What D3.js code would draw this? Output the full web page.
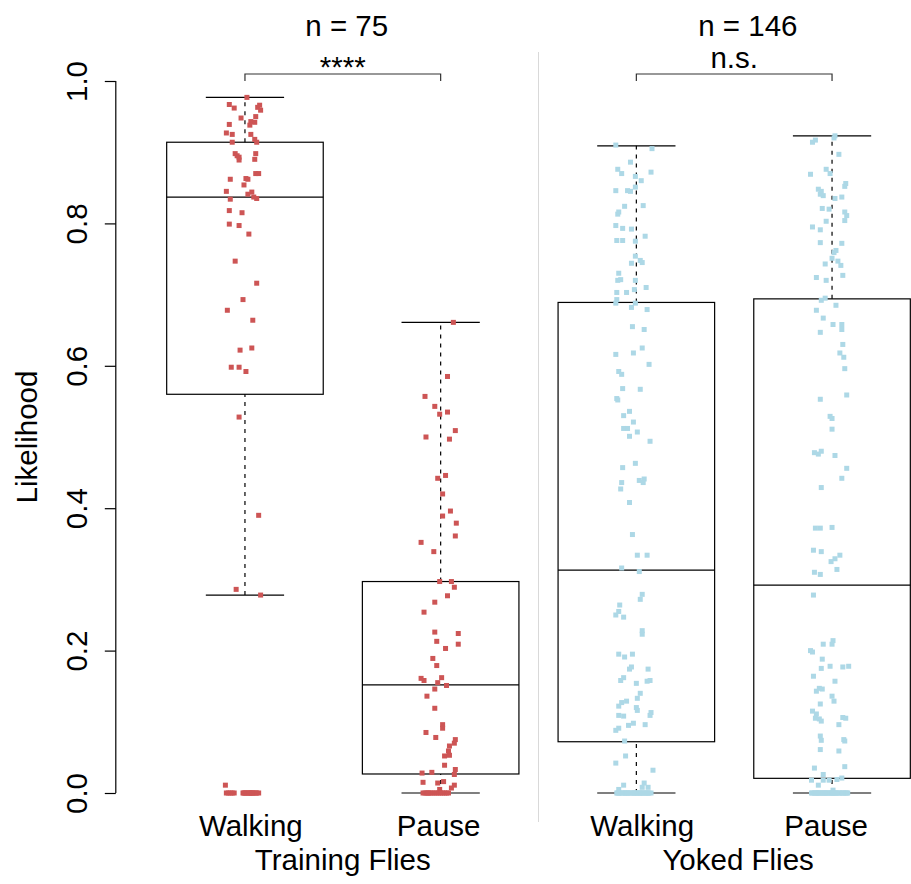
<!DOCTYPE html>
<html>
<head>
<meta charset="utf-8">
<script src="https://cdnjs.cloudflare.com/ajax/libs/d3/7.8.5/d3.min.js"></script>
<style>
  html, body { margin: 0; padding: 0; background: #ffffff; }
  svg { display: block; }
  text { font-family: "Liberation Sans", Arial, Helvetica, sans-serif; fill: #000; }
</style>
</head>
<body>
<svg id="chart" width="911" height="884"></svg>
<script>
// ---------------- DATA ----------------
const categories = ["Walking", "Pause", "Walking", "Pause"];
const groupLabels = ["Training Flies", "Yoked Flies"];
const groupCounts = ["n = 75", "n = 146"];
const significance = ["****", "n.s."];
const yTicks = [0, 0.2, 0.4, 0.6, 0.8, 1.0];
const yTickLabels = ["0.0", "0.2", "0.4", "0.6", "0.8", "1.0"];
const yLabel = "Likelihood";

// box statistics: [lower whisker, Q1, median, Q3, upper whisker]
const boxTrainWalk = [0.278, 0.560, 0.837, 0.914, 0.977];
const boxTrainPause = [0.000, 0.0267, 0.152, 0.297, 0.661];
const boxYokedWalk = [0.000, 0.072, 0.313, 0.689, 0.909];
const boxYokedPause = [0.000, 0.0206, 0.292, 0.694, 0.923];

// jittered points: values and horizontal jitter (units of 0.005 category width)
const trainWalkVals = [0.977,0.967,0.962,0.966,0.963,0.959,0.950,0.948,0.943,0.942,0.939,0.938,
  0.927,0.925,0.925,0.918,0.914,0.914,0.898,0.898,0.895,0.893,0.889,0.890,
  0.870,0.870,0.862,0.863,0.862,0.854,0.845,0.844,0.841,0.837,0.835,0.834,
  0.818,0.815,0.799,0.797,0.785,0.747,0.716,0.693,0.678,0.664,0.622,0.625,0.598,0.598,0.592,
  0.528,0.390,0.286,0.278,0.011,
  0,0,0,0,0,0,0,0,0,0,0,0,0,0,0,0,0,0,0];
const trainWalkJit = [2,-16,-11,15,13,16,11,-4,6,10,-16,5,
  -19,-13,6,10,12,-13,11,-10,-8,-6,-6,10,
  11,14,-15,1,3,-1,-19,7,3,9,12,-15,
  -16,-3,-16,-6,4,-10,12,-2,-18,8,-5,7,-14,-6,1,
  -6,14,-9,16,-20,
  -19,-17,-15,-13,-11,-2,0,1,3,5,6,8,9,11,12,14,-1,4,7];

const trainPauseVals = [0.661,0.585,0.557,0.543,0.535,0.532,0.509,0.500,0.497,0.446,0.442,0.420,
  0.396,0.389,0.379,0.361,0.352,0.339,
  0.297,0.297,0.289,0.277,0.268,0.254,0.226,0.224,0.213,0.209,0.203,0.189,0.179,0.161,0.158,
  0.162,0.155,0.151,0.146,0.136,0.119,0.096,0.091,0.085,0.078,0.075,0.070,0.066,0.059,0.052,
  0.053,0.039,0.033,0.028,0.029,0.026,0.015,0.014,0.016,0.011,0.007,0.005,
  0,0,0,0,0,0,0,0,0,0,0,0,0,0,0];
const trainPauseJit = [13,7,-16,-6,7,-1,15,-15,9,5,-3,2,
  10,2,16,15,-20,-7,
  -1,11,14,7,-6,-17,-6,18,-4,18,5,-8,-4,-20,-17,
  1,-3,6,-6,-14,-6,2,2,-15,-5,15,14,9,8,4,
  9,4,15,-19,-9,14,-18,-3,3,14,11,-1,
  -18,-16,-14,-12,-10,-8,-6,-4,-2,0,2,4,6,8,-13];

const yokedWalkVals = [0.910,0.905,0.886,0.876,0.870,0.872,0.866,0.860,0.851,0.846,0.846,0.845,
  0.825,0.824,0.816,0.813,0.797,0.793,0.792,0.782,0.776,0.776,0.775,0.754,0.748,0.745,0.744,
  0.730,0.721,0.720,0.720,0.710,0.707,0.703,0.703,0.693,0.688,0.688,0.682,0.679,0.655,0.651,
  0.625,0.616,0.618,
  0.602,0.592,0.588,0.568,0.567,0.554,0.552,0.536,0.530,0.521,0.512,0.512,0.507,0.501,0.494,
  0.463,0.457,0.439,0.441,0.436,0.436,0.427,0.408,0.363,0.334,0.334,0.316,0.311,
  0.279,0.272,0.264,0.255,0.250,0.247,0.228,0.223,0.195,0.191,0.195,0.177,0.174,0.174,0.162,
  0.158,0.154,0.157,0.158,0.140,0.133,0.127,0.129,0.122,0.120,0.116,0.113,0.109,0.109,0.108,
  0.098,0.095,0.096,0.091,0.088,0.073,0.052,0.042,0.032,0.011,0.014,0.005,0.008,0.008,
  0,0,0,0,0,0,0,0,0,0,0,0,0,0,0,0,0,0,0,0,0,0,0,0,0,0,0,0,0];
const yokedWalkJit = [-21,16,-6,-19,-15,15,-1,5,-1,-21,-9,-6,
  7,-12,-18,-19,-21,-14,-5,9,-20,-14,-1,-1,4,6,-5,
  -18,-16,-19,-1,10,-2,-20,-10,-20,-21,-1,-5,11,-4,8,
  6,-21,-3,
  13,-18,-15,-14,4,-20,-19,-7,-13,-3,-13,-9,1,-7,14,
  -1,-14,3,8,7,-15,-16,-7,-4,1,11,-15,3,
  6,4,-17,-18,-21,-13,6,6,-18,-12,-4,-5,-7,12,-13,
  -16,0,11,14,4,1,-15,-10,-18,0,1,15,14,-18,-13,
  -3,-8,9,-18,-21,-12,-11,-21,17,-13,8,-18,6,12,
  -20,-18,-17,-15,-14,-12,-11,-9,-8,-6,-5,-3,-2,0,1,3,4,6,7,9,10,12,13,15,-19,-10,-1,5,11];

const yokedPauseVals = [0.923,0.920,0.917,0.914,0.897,0.876,0.870,0.869,0.856,0.852,0.848,0.845,
  0.841,0.839,0.837,0.835,0.821,0.820,0.816,0.811,0.804,0.803,0.795,0.791,0.773,0.772,0.762,
  0.759,0.751,0.747,0.741,0.743,0.727,0.724,0.720,0.692,0.695,0.685,0.678,0.667,0.658,0.658,
  0.651,0.647,0.630,
  0.618,0.612,0.596,0.559,0.553,0.529,0.526,0.511,0.478,0.476,0.480,0.474,0.456,0.442,0.429,
  0.372,0.372,0.373,0.341,0.339,0.334,0.329,0.325,0.314,
  0.310,0.307,0.278,0.214,0.209,0.209,0.200,0.198,0.188,0.175,0.178,0.177,0.178,0.164,0.157,
  0.147,0.146,0.143,0.136,0.129,0.125,0.115,0.111,0.105,0.104,0.101,0.106,0.105,0.096,0.080,
  0.074,0.075,0.073,0.061,0.059,0.037,0.035,0.026,0.018,0.018,0.018,0.019,0.021,0.011,0.004,
  0,0,0,0,0,0,0,0,0,0,0,0,0,0,0,0,0,0,0,0,0,0,0,0,0,0,0,0,0,0,0,0];
const yokedPauseJit = [3,2,-17,-20,7,-6,-2,-22,14,13,-14,-11,
  -12,-9,10,3,-10,-3,13,15,13,-6,-20,-12,-12,10,4,
  2,0,6,9,-7,11,-16,-6,-11,-7,4,-16,-9,1,10,
  10,-12,11,
  8,12,13,15,-12,-2,0,0,-18,-14,-11,3,15,10,-11,
  -17,-12,0,-19,-11,8,3,-1,5,
  -18,-12,-19,1,-9,0,-22,-20,-10,-11,-2,11,17,-19,3,
  -13,-10,-16,0,2,-12,-20,-16,-17,-13,-11,11,14,7,-12,
  -11,12,13,-12,7,13,-18,-9,-21,-9,-3,5,10,-14,1,
  -21,-20,-18,-17,-16,-14,-13,-12,-10,-9,-8,-6,-5,-4,-2,-1,0,1,3,4,5,7,8,10,11,12,14,15,16,-15,-7,2];

const JIT_UNIT = 0.005;
const pointColors = ["#CD5555", "#ADD8E6"];

// ---------------- CHART ----------------
const svg = d3.select("#chart");
const x = d3.scaleLinear().domain([0.34, 4.66]).range([115.8, 961.2]);
const y = d3.scaleLinear().domain([0, 1]).range([793, 81]);

const boxes = [boxTrainWalk, boxTrainPause, boxYokedWalk, boxYokedPause];
const series = [
  {vals: trainWalkVals, jit: trainWalkJit, color: pointColors[0]},
  {vals: trainPauseVals, jit: trainPauseJit, color: pointColors[0]},
  {vals: yokedWalkVals, jit: yokedWalkJit, color: pointColors[1]},
  {vals: yokedPauseVals, jit: yokedPauseJit, color: pointColors[1]}
];
const boxHalf = 0.4, capHalf = 0.2;
const FS = 29.5;

// separator between groups
svg.append("line")
  .attr("x1", x(2.5)).attr("x2", x(2.5))
  .attr("y1", 52).attr("y2", 822)
  .attr("stroke", "#d9d9d9").attr("stroke-width", 1);

// boxes
boxes.forEach((b, i) => {
  const pos = i + 1;
  const g = svg.append("g");
  // whiskers (dashed)
  g.append("line").attr("x1", x(pos)).attr("x2", x(pos))
    .attr("y1", y(b[3])).attr("y2", y(b[4]))
    .attr("stroke", "#000").attr("stroke-width", 1.2).attr("stroke-dasharray", "4,5");
  g.append("line").attr("x1", x(pos)).attr("x2", x(pos))
    .attr("y1", y(b[0])).attr("y2", y(b[1]))
    .attr("stroke", "#000").attr("stroke-width", 1.2).attr("stroke-dasharray", "4,5");
  // caps
  [b[0], b[4]].forEach(v => {
    g.append("line").attr("x1", x(pos - capHalf)).attr("x2", x(pos + capHalf))
      .attr("y1", y(v)).attr("y2", y(v))
      .attr("stroke", "#000").attr("stroke-width", 1.2);
  });
  // box
  g.append("rect").attr("x", x(pos - boxHalf)).attr("y", y(b[3]))
    .attr("width", x(pos + boxHalf) - x(pos - boxHalf))
    .attr("height", y(b[1]) - y(b[3]))
    .attr("fill", "none").attr("stroke", "#000").attr("stroke-width", 1.2);
  // median
  g.append("line").attr("x1", x(pos - boxHalf)).attr("x2", x(pos + boxHalf))
    .attr("y1", y(b[2])).attr("y2", y(b[2]))
    .attr("stroke", "#000").attr("stroke-width", 1.2);
});

// points
series.forEach((s, i) => {
  const pos = i + 1;
  svg.append("g").selectAll("rect")
    .data(s.vals.map((v, k) => ({v, j: s.jit[k]})))
    .join("rect")
    .attr("x", d => x(pos + d.j * JIT_UNIT) - 2.5)
    .attr("y", d => y(d.v) - 2.5)
    .attr("width", 5).attr("height", 5)
    .attr("fill", s.color);
});

// y axis
const yAxis = d3.axisLeft(y).tickValues(yTicks).tickSize(11).tickFormat((d, i) => yTickLabels[i]);
const ax = svg.append("g").attr("transform", `translate(${x(0.34)},0)`).call(yAxis);
ax.select(".domain").attr("stroke", "#000").attr("stroke-width", 1.2).attr("d", `M0,${y(0)}V${y(1)}`);
ax.selectAll(".tick line").attr("stroke", "#000").attr("stroke-width", 1.2);
ax.selectAll(".tick text")
  .attr("x", null).attr("dy", null)
  .style("font-size", FS + "px")
  .attr("text-anchor", "middle")
  .attr("transform", `translate(${87 - x(0.34)},0) rotate(-90)`)
  .attr("fill", "#000");

// y label
svg.append("text")
  .attr("transform", `translate(37,${y(0.5)}) rotate(-90)`)
  .attr("text-anchor", "middle")
  .style("font-size", FS + "px")
  .text(yLabel);

// category labels
const catCenters = [1.03, 1.99, 3.03, 3.97];
categories.forEach((c, i) => {
  svg.append("text").attr("x", x(catCenters[i])).attr("y", 836)
    .attr("text-anchor", "middle").style("font-size", FS + "px").text(c);
});
// group labels
[1.5, 3.52].forEach((p, i) => {
  svg.append("text").attr("x", x(p)).attr("y", 870)
    .attr("text-anchor", "middle").style("font-size", FS + "px").text(groupLabels[i]);
});
// n labels
[1.52, 3.57].forEach((p, i) => {
  svg.append("text").attr("x", x(p)).attr("y", 36)
    .attr("text-anchor", "middle").style("font-size", FS + "px").text(groupCounts[i]);
});

// significance brackets
[[1, 2], [3, 4]].forEach((pr, i) => {
  svg.append("path")
    .attr("d", `M${x(pr[0])},${y(1)}V74H${x(pr[1])}V${y(1)}`)
    .attr("fill", "none").attr("stroke", "#333").attr("stroke-width", 1.2);
  svg.append("text").attr("x", x((pr[0] + pr[1]) / 2)).attr("y", i === 0 ? 77 : 68)
    .attr("text-anchor", "middle").style("font-size", FS + "px").text(significance[i]);
});
</script>
</body>
</html>
